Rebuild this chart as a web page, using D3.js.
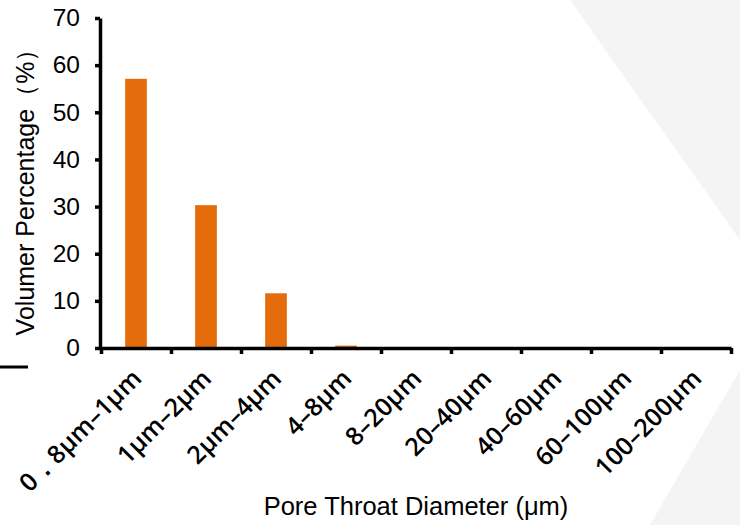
<!DOCTYPE html>
<html>
<head>
<meta charset="utf-8">
<script src="https://cdn.jsdelivr.net/npm/d3@7"></script>
<style>
  html, body { margin: 0; padding: 0; background: #fff; }
  svg { display: block; }
</style>
</head>
<body>
<div id="chart"></div>
<script>
// Pore throat size classes and their volume share (%)
const categories = ["0．8μm–1μm", "1μm–2μm", "2μm–4μm", "4–8μm", "8–20μm",
                    "20–40μm", "40–60μm", "60–100μm", "100–200μm"];
const volumePct = [57.1, 30.3, 11.6, 0.5, 0, 0, 0, 0, 0];
const yTicks = [0, 10, 20, 30, 40, 50, 60, 70];

const W = 740, H = 525;
const svg = d3.select("#chart").append("svg")
    .attr("width", W)
    .attr("height", H);

// faint grey slide decoration on the right
svg.append("path").attr("d", "M570,0 L740,0 L740,240 Z").attr("fill", "#f4f4f4");
svg.append("path").attr("d", "M740,370 L740,525 L650,525 Z").attr("fill", "#f4f4f4");

const x0 = 101, x1 = 731, y0 = 348, yTop = 18;

const x = d3.scaleBand()
    .domain(categories)
    .range([x0, x1])
    .padding(0);

// boundaries between categories, used for the tick marks
const xb = d3.scaleLinear().domain([0, categories.length]).range([x0, x1]);

const y = d3.scaleLinear()
    .domain([0, 70])
    .range([y0, yTop]);

// bars
const barW = x.bandwidth() * 0.31;
svg.append("g")
    .selectAll("rect")
    .data(volumePct)
    .join("rect")
    .attr("x", (d, i) => x(categories[i]) + x.bandwidth() / 2 - barW / 2)
    .attr("y", d => y(d))
    .attr("width", barW)
    .attr("height", d => y0 - y(d))
    .attr("fill", "#e46c0a");

// y axis
const yAxis = svg.append("g")
    .attr("transform", `translate(${x0 - 1},0)`)
    .call(d3.axisLeft(y).tickValues(yTicks).tickSize(5).tickSizeOuter(0).tickPadding(15));
yAxis.select(".domain").attr("stroke", "#000").attr("stroke-width", 3.5);
yAxis.selectAll(".tick line").attr("stroke", "#000").attr("stroke-width", 3.5);
yAxis.selectAll(".tick text")
    .attr("fill", "#000")
    .style("font-family", "Arial, 'Liberation Sans', sans-serif")
    .style("font-size", "24.5px");

// x axis (ticks at category boundaries)
const xAxis = svg.append("g")
    .attr("transform", `translate(0,${y0})`)
    .call(d3.axisBottom(xb).tickValues(d3.range(categories.length + 1))
        .tickSize(6).tickSizeOuter(0).tickFormat(""));
xAxis.select(".domain").attr("stroke", "#000").attr("stroke-width", 3.5);
xAxis.selectAll(".tick line").attr("stroke", "#000").attr("stroke-width", 3.5);

// rotated category labels
svg.append("g")
    .selectAll("text")
    .data(categories)
    .join("text")
    .attr("transform", d => `translate(${x(d) + x.bandwidth() / 2 + 7},${y0 + 32}) rotate(-45)`)
    .attr("text-anchor", "end")
    .style("font-family", "'Open Sans', sans-serif")
    .style("font-size", "25px")
    .style("font-weight", 600)
    .attr("fill", "#000")
    .text(d => d);

// axis titles
svg.append("text")
    .attr("transform", `translate(34,186) rotate(-90)`)
    .attr("text-anchor", "middle")
    .style("font-family", "Arial, 'Liberation Sans', sans-serif")
    .style("font-size", "25px")
    .attr("fill", "#000")
    .text("Volumer Percentage（%）");

svg.append("text")
    .attr("x", 416)
    .attr("y", 515)
    .attr("text-anchor", "middle")
    .style("font-family", "Arial, 'Liberation Sans', sans-serif")
    .style("font-size", "25.5px")
    .attr("fill", "#000")
    .text("Pore Throat Diameter (μm)");

// stray short rule at lower left
svg.append("line")
    .attr("x1", 0).attr("x2", 28)
    .attr("y1", 367).attr("y2", 367)
    .attr("stroke", "#000")
    .attr("stroke-width", 3);
</script>
</body>
</html>
